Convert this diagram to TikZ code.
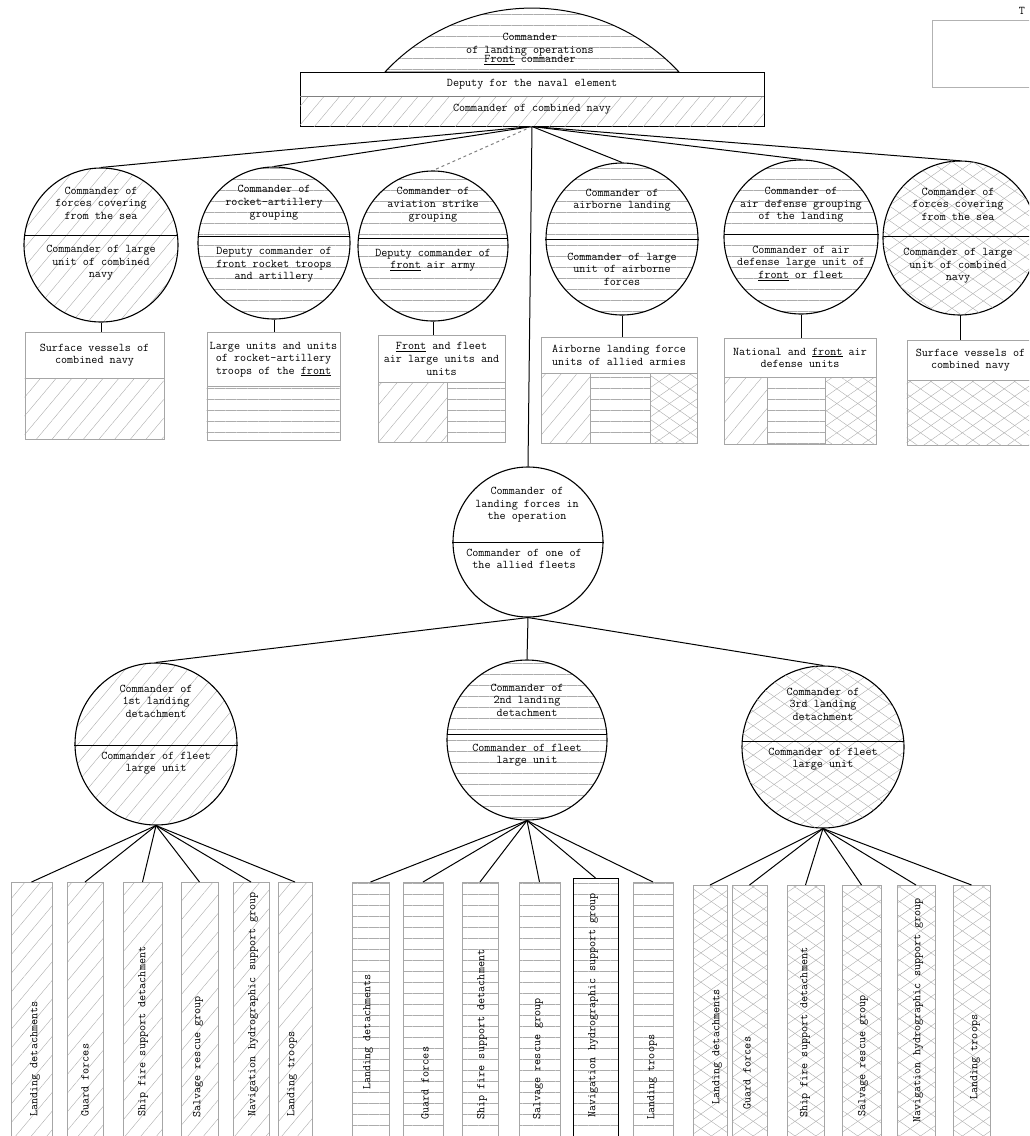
\documentclass[tikz,border=0pt]{standalone}
\usetikzlibrary{patterns.meta}
\tikzset{
  txt/.style={font=\fontsize{11.8}{12.6}\selectfont\ttfamily, align=center, inner sep=0pt},
  vtxt/.style={txt, rotate=90, anchor=west},
  cmd/.style={circle, draw, line width=1.1pt, minimum size=#1, inner sep=0pt},
  unitbox/.style={txt, draw=gray!70, line width=.6pt, anchor=north},
  col/.style={draw=gray!70, line width=.6pt, minimum width=#1, minimum height=262pt, anchor=north, inner sep=0pt},
  link/.style={line width=1pt},
  diag/.style={pattern={Lines[angle=50,distance=12pt,line width=.4pt]}, pattern color=gray!65},
  horiz/.style={pattern={Lines[angle=0,distance=11pt,line width=.4pt]}, pattern color=gray!65},
  cross/.style={pattern={Lines[angle=35,distance=12pt,line width=.4pt]}, pattern color=gray!65,
    postaction={pattern={Lines[angle=-35,distance=12pt,line width=.4pt]}, pattern color=gray!65}},
}
\begin{document}
\begin{tikzpicture}[x=1pt,y=-1pt]
\useasboundingbox (0,0) rectangle (1029,1136);
\clip (0,0) rectangle (1029,1136);

% top: landing operation commander
\draw[line width=1pt, horiz] (385,72) arc[start angle=223, end angle=317, radius=201] -- cycle;
\node[draw, line width=1pt, minimum width=464pt, minimum height=54pt, inner sep=0pt] (navy) at (532,99) {};
\path[diag] (300,96) rectangle (764,126);
\draw[gray] (300,96) -- (764,96);
\node[txt] (dome) at (530,49) {Commander\\of landing operations\\[-3pt]\underline{Front} commander};
\node[txt] (dep) at (532,84) {Deputy for the naval element};
\node[txt] (cnav) at (532,109) {Commander of combined navy};

\node[draw=gray!60, minimum width=110pt, minimum height=67pt, anchor=north west] (tab) at (932,20) {};
\node[txt] (tabt) at (1022,11) {T};

% row of groupings
\node[cmd=154pt, diag] (c1) at (101,245) {};
\draw (c1.173) -- (c1.7);
\node[txt] (c1u) at (101,203) {Commander of\\forces covering\\from the sea};
\node[txt] (c1l) at (101,263) {Commander of large\\unit of combined\\navy};

\node[cmd=152pt, horiz] (c2) at (274,243) {};
\draw (c2.175) -- (c2.5);
\node[txt] (c2u) at (274,203) {Commander of\\rocket-artillery\\grouping};
\node[txt] (c2l) at (274,265) {Deputy commander of\\front rocket troops\\and artillery};

\node[cmd=150pt, horiz] (c3) at (433,246) {};
\draw (c3.174) -- (c3.6);
\node[txt] (c3u) at (433,205) {Commander of\\aviation strike\\grouping};
\node[txt] (c3l) at (433,260) {Deputy commander of\\\underline{front} air army};

\node[cmd=152pt, horiz] (c4) at (622,239) {};
\draw (c4.west) -- (c4.east);
\node[txt] (c4u) at (622,200) {Commander of\\airborne landing};
\node[txt] (c4l) at (622,269) {Commander of large\\unit of airborne\\forces};

\node[cmd=154pt, horiz] (c5) at (801,237) {};
\draw (c5.178) -- (c5.2);
\node[txt] (c5u) at (801,205) {Commander of\\air defense grouping\\of the landing};
\node[txt] (c5l) at (801,263) {Commander of air\\defense large unit of\\\underline{front} or fleet};

\node[cmd=154pt, cross] (c6) at (960,238) {};
\draw (c6.179) -- (c6.1);
\node[txt] (c6u) at (958,204) {Commander of\\forces covering\\from the sea};
\node[txt] (c6l) at (958,266) {Commander of large\\unit of combined\\navy};

\draw[link] (navy.south) -- (c1.north);
\draw[link] (navy.south) -- (c2.north);
\draw[link, dashed, gray] (navy.south) -- (c3.north);
\draw[link] (navy.south) -- (c4.north);
\draw[link] (navy.south) -- (c5.north);
\draw[link] (navy.south) -- (c6.north);

% forces under each grouping
\node[unitbox, minimum width=139pt, minimum height=46pt] (u1) at (94.5,332) {Surface vessels of\\combined navy};
\path[diag, draw=gray!70] (u1.south west) rectangle ++(139,61);

\node[unitbox, minimum width=133pt, minimum height=54pt] (u2) at (273.5,332) {Large units and units\\of rocket-artillery\\troops of the \underline{front}};
\path[horiz, draw=gray!70] (u2.south west) rectangle ++(133,54);

\node[unitbox, minimum width=127pt, minimum height=47pt] (u3) at (441.5,335) {\underline{Front} and fleet\\air large units and\\units};
\path[diag, draw=gray!70] (378,382) rectangle (447,442);
\path[horiz, draw=gray!70] (447,382) rectangle (505,442);

\node[unitbox, minimum width=156pt, minimum height=36pt] (u4) at (619,337) {Airborne landing force\\units of allied armies};
\path[diag, draw=gray!70] (541,373) rectangle (590,443);
\path[horiz, draw=gray!70] (590,373) rectangle (650,443);
\path[cross, draw=gray!70] (650,373) rectangle (697,443);

\node[unitbox, minimum width=152pt, minimum height=39pt] (u5) at (800,338) {National and \underline{front} air\\defense units};
\path[diag, draw=gray!70] (724,377) rectangle (767,444);
\path[horiz, draw=gray!70] (767,377) rectangle (825,444);
\path[cross, draw=gray!70] (825,377) rectangle (876,444);

\node[unitbox, minimum width=127pt, minimum height=40pt] (u6) at (970.5,340) {Surface vessels of\\combined navy};
\path[cross, draw=gray!70] (u6.south west) rectangle ++(127,65);

\draw[link] (c1.south) -- (c1.south |- u1.north);
\draw[link] (c2.south) -- (c2.south |- u2.north);
\draw[link] (c3.south) -- (c3.south |- u3.north);
\draw[link] (c4.south) -- (c4.south |- u4.north);
\draw[link] (c5.south) -- (c5.south |- u5.north);
\draw[link] (c6.south) -- (c6.south |- u6.north);

% landing forces
\node[cmd=150pt] (land) at (528,542) {};
\draw (land.west) -- (land.east);
\node[txt] (landu) at (527,505) {Commander of\\landing forces in\\the operation};
\node[txt] (landl) at (524,559) {Commander of one of\\the allied fleets};
\draw[link] (navy.south) -- (land.north);

% landing detachments
\node[cmd=162pt, diag] (d1) at (156,744) {};
\draw (d1.181) -- (d1.359);
\node[txt] (d1u) at (156,701) {Commander of\\1st landing\\detachment};
\node[txt] (d1l) at (156,763) {Commander of fleet\\large unit};

\node[cmd=160pt, horiz] (d2) at (527,740) {};
\draw (d2.176) -- (d2.4);
\node[txt] (d2u) at (527,700) {Commander of\\2nd landing\\detachment};
\node[txt] (d2l) at (527,755) {Commander of fleet\\large unit};

\node[cmd=162pt, cross] (d3) at (823,747) {};
\draw (d3.176) -- (d3.4);
\node[txt] (d3u) at (823,704) {Commander of\\3rd landing\\detachment};
\node[txt] (d3l) at (823,759) {Commander of fleet\\large unit};

\draw[link] (land.south) -- (d1.north);
\draw[link] (land.south) -- (d2.north);
\draw[link] (land.south) -- (d3.north);

% 1st detachment
\node[col=41pt, diag] (p1) at (31.5,882) {};
\node[col=36pt, diag] (p2) at (85,882) {};
\node[col=39pt, diag] (p3) at (142.5,882) {};
\node[col=37pt, diag] (p4) at (199.5,882) {};
\node[col=36pt, diag] (p5) at (251,882) {};
\node[col=34pt, diag] (p6) at (295,882) {};
\node[vtxt] (p1t) at (35,1117) {Landing detachments};
\node[vtxt] (p2t) at (85,1117) {Guard forces};
\node[vtxt] (p3t) at (143,1117) {Ship fire support detachment};
\node[vtxt] (p4t) at (198,1118) {Salvage rescue group};
\node[vtxt] (p5t) at (253,1117) {Navigation hydrographic support group};
\node[vtxt] (p6t) at (292,1117) {Landing troops};
\draw[link] (d1.south) -- (p1.north);
\draw[link] (d1.south) -- (p2.north);
\draw[link] (d1.south) -- (p3.north);
\draw[link] (d1.south) -- (p4.north);
\draw[link] (d1.south) -- (p5.north);
\draw[link] (d1.south) -- (p6.north);

% 2nd detachment
\node[col=37pt, horiz] (q1) at (370.5,882) {};
\node[col=40pt, horiz] (q2) at (423,882) {};
\node[col=36pt, horiz] (q3) at (480,882) {};
\node[col=41pt, horiz] (q4) at (539.5,882) {};
\node[col=45pt, horiz, draw=black] (q5) at (595.5,878) {};
\node[col=40pt, horiz] (q6) at (653,882) {};
\node[vtxt] (q1t) at (368,1090) {Landing detachments};
\node[vtxt] (q2t) at (425,1120) {Guard forces};
\node[vtxt] (q3t) at (482,1120) {Ship fire support detachment};
\node[vtxt] (q4t) at (538,1120) {Salvage rescue group};
\node[vtxt] (q5t) at (593,1118) {Navigation hydrographic support group};
\node[vtxt] (q6t) at (652,1120) {Landing troops};
\draw[link] (d2.south) -- (q1.north);
\draw[link] (d2.south) -- (q2.north);
\draw[link] (d2.south) -- (q3.north);
\draw[link] (d2.south) -- (q4.north);
\draw[link] (d2.south) -- (q5.north);
\draw[link] (d2.south) -- (q6.north);

% 3rd detachment
\node[col=34pt, cross] (r1) at (710,885) {};
\node[col=35pt, cross] (r2) at (749.5,885) {};
\node[col=37pt, cross] (r3) at (805.5,885) {};
\node[col=39pt, cross] (r4) at (861.5,885) {};
\node[col=38pt, cross] (r5) at (916,885) {};
\node[col=37pt, cross] (r6) at (971.5,885) {};
\node[vtxt] (r1t) at (717,1105) {Landing detachments};
\node[vtxt] (r2t) at (747,1110) {Guard forces};
\node[vtxt] (r3t) at (805,1118) {Ship fire support detachment};
\node[vtxt] (r4t) at (863,1117) {Salvage rescue group};
\node[vtxt] (r5t) at (918,1123) {Navigation hydrographic support group};
\node[vtxt] (r6t) at (975,1100) {Landing troops};
\draw[link] (d3.south) -- (r1.north);
\draw[link] (d3.south) -- (r2.north);
\draw[link] (d3.south) -- (r3.north);
\draw[link] (d3.south) -- (r4.north);
\draw[link] (d3.south) -- (r5.north);
\draw[link] (d3.south) -- (r6.north);
\end{tikzpicture}
\end{document}
